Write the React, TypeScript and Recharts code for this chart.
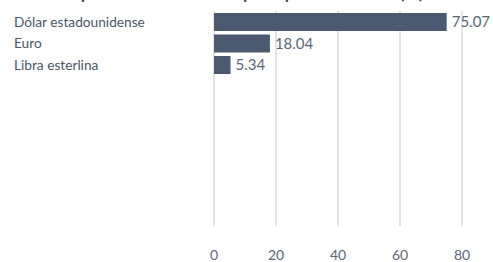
import React from "react";
import { BarChart, Bar, XAxis, YAxis, CartesianGrid, LabelList } from "recharts";

const categories = ["Dólar estadounidense", "Euro", "Libra esterlina", "", "", "", "", "", "", ""];
const values: (number | null)[] = [75.07, 18.04, 5.34, null, null, null, null, null, null, null];
const xTicks = [0, 20, 40, 60, 80];
const title = "Composición de la deuda por tipo de moneda (%)";

const data = categories.map((name, i) => ({ key: `c${i}`, name, value: values[i] }));

const FONT = "Lato, 'Open Sans', sans-serif";

const CatTick = (props: any) => {
  const { y, payload } = props;
  const row = data.find((d) => d.key === payload.value);
  return (
    <text x={14} y={y} dy={5} textAnchor="start" fill="#4a5666" fontSize={13.7} fontFamily={FONT}>
      {row ? row.name : ""}
    </text>
  );
};

export default function App() {
  return (
    <div style={{ position: "absolute", left: 0, top: 0, width: 493, height: 262, overflow: "hidden", background: "#fff" }}>
      <div
        style={{
          position: "absolute",
          top: -16,
          left: 0,
          width: 468,
          textAlign: "center",
          fontFamily: FONT,
          fontWeight: 700,
          fontSize: 17.5,
          lineHeight: "17px",
          color: "#3f4d63",
          whiteSpace: "nowrap",
        }}
      >
        {title}
      </div>
      <BarChart
        width={493}
        height={262}
        data={data}
        layout="vertical"
        margin={{ top: 11, right: 31, bottom: 0, left: 0 }}
        barSize={18}
      >
        <CartesianGrid horizontal={false} stroke="#dcdcdc" strokeWidth={1.5} />
        <XAxis
          type="number"
          domain={[0, 80]}
          ticks={xTicks}
          axisLine={false}
          tickLine={false}
          height={36}
          tickMargin={18}
          tick={{ fill: "#5a6778", fontSize: 14, fontFamily: FONT }}
        />
        <YAxis
          type="category"
          dataKey="key"
          width={214}
          axisLine={false}
          tickLine={false}
          interval={0}
          tick={<CatTick />}
        />
        <Bar dataKey="value" fill="#4b5a71" isAnimationActive={false}>
          <LabelList dataKey="value" position="right" offset={5} fill="#5a6778" fontSize={15} fontFamily={FONT} formatter={(v: any) => (v == null ? "" : Number(v).toFixed(2))} />
        </Bar>
      </BarChart>
    </div>
  );
}
